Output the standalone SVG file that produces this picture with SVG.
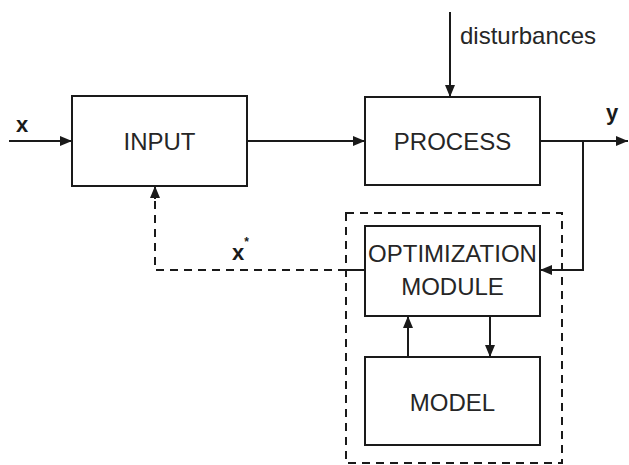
<svg xmlns="http://www.w3.org/2000/svg" width="629" height="465" viewBox="0 0 629 465">
<defs>
<style>
.box{fill:#fff;stroke:#1a1a1a;stroke-width:2}
.lbl{font-family:"Liberation Sans",Arial,sans-serif;font-size:24px;fill:#262626;text-anchor:middle}
.var{font-family:"Liberation Sans",Arial,sans-serif;font-size:22px;font-weight:bold;fill:#1a1a1a}
.ln{fill:none;stroke:#1a1a1a;stroke-width:2}
.dash{fill:none;stroke:#1a1a1a;stroke-width:2;stroke-dasharray:8 6}
</style>
<marker id="ah" viewBox="0 0 12 10" refX="12" refY="5" markerWidth="12" markerHeight="10" markerUnits="userSpaceOnUse" orient="auto">
<path d="M0,0 L12,5 L0,10 Z" fill="#1a1a1a"/>
</marker>
</defs>
<rect width="629" height="465" fill="#fff"/>
<g id="connectors">
<line class="ln" x1="9" y1="141" x2="72" y2="141" marker-end="url(#ah)"/>
<line class="ln" x1="247" y1="141" x2="365" y2="141" marker-end="url(#ah)"/>
<line class="ln" x1="450" y1="12" x2="450" y2="97" marker-end="url(#ah)"/>
<line class="ln" x1="540" y1="141" x2="628" y2="141" marker-end="url(#ah)"/>
<polyline class="ln" points="583,141 583,270 540,270" marker-end="url(#ah)"/>
<line class="ln" x1="408" y1="357" x2="408" y2="316" marker-end="url(#ah)"/>
<line class="ln" x1="490" y1="316" x2="490" y2="357" marker-end="url(#ah)"/>
<line class="ln" x1="365" y1="270" x2="346" y2="270"/>
<polyline class="dash" points="346,270 155,270 155,199"/>
<line class="ln" x1="155" y1="199" x2="155" y2="186" marker-end="url(#ah)"/>
</g>
<g id="group-boundary">
<rect class="dash" x="346" y="213" width="216" height="250"/>
</g>
<g id="input">
<rect class="box" x="72" y="96" width="175" height="90"/>
<text class="lbl" x="159.5" y="150">INPUT</text>
</g>
<g id="process">
<rect class="box" x="365" y="97" width="175" height="88"/>
<text class="lbl" x="452.5" y="150">PROCESS</text>
</g>
<g id="optimization">
<rect class="box" x="365" y="226" width="175" height="90"/>
<text class="lbl" x="452.5" y="262">OPTIMIZATION</text>
<text class="lbl" x="452.5" y="295">MODULE</text>
</g>
<g id="model">
<rect class="box" x="365" y="357" width="175" height="88"/>
<text class="lbl" x="452.5" y="411">MODEL</text>
</g>
<g id="labels">
<text class="lbl" x="460" y="44" style="text-anchor:start">disturbances</text>
<text class="var" x="16" y="132">x</text>
<text class="var" x="606" y="120">y</text>
<text class="var" x="232" y="260">x<tspan font-size="12" dy="-14">*</tspan></text>
</g>
</svg>
